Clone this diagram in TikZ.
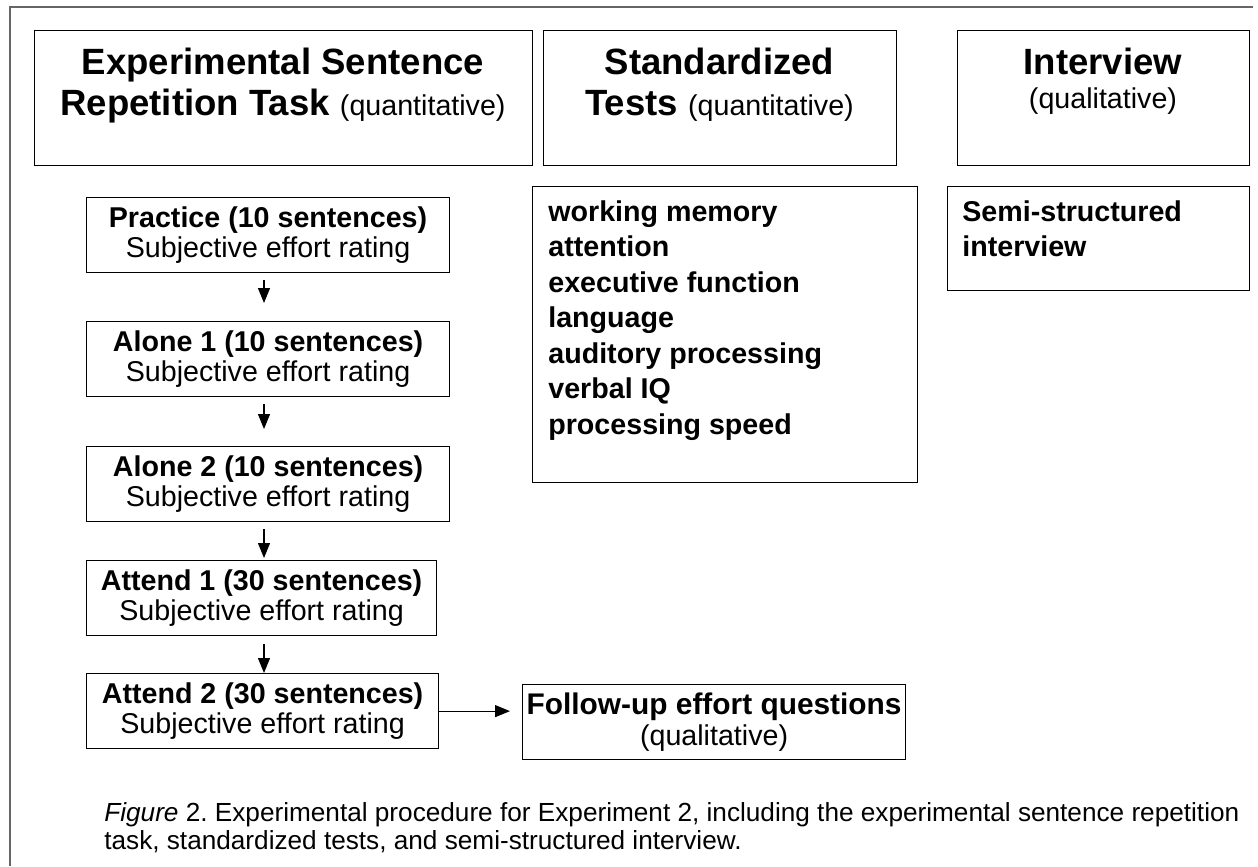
\documentclass[tikz,border=0pt]{standalone}
\usepackage{fontspec}
\setmainfont{Liberation Sans}
\usetikzlibrary{arrows.meta}
\frenchspacing

\newcommand{\hdfont}{\fontsize{20.8}{23.3}\selectfont\bfseries}
\newcommand{\qlfont}{\fontsize{16.3}{23.3}\selectfont\mdseries}

\tikzset{
  frame/.style={draw=black!60, line width=1.3pt},
  box/.style={draw, line width=0.7pt, inner sep=0pt, anchor=north west},
  hdtxt/.style={anchor=north, align=center, inner sep=0pt, font=\hdfont},
  listtxt/.style={anchor=north west, align=left, inner sep=0pt,
    font=\fontsize{16.3}{20.2}\selectfont\bfseries},
  stage/.style={draw, line width=0.7pt, anchor=north west, align=center,
    inner sep=0pt, minimum height=1.5cm, font=\fontsize{16.3}{17}\selectfont},
  flow/.style={line width=0.7pt, -{Triangle[length=0.3cm,width=0.24cm]}}
}

\begin{document}
\begin{tikzpicture}[x=0.02cm, y=-0.02cm]
  \useasboundingbox (0,0) rectangle (1258,866);
  \draw[frame] (10,866) -- (10,7) -- (1253,7);

  % headings
  \node[box, minimum width=9.96cm, minimum height=2.7cm] (hdest) at (34,30) {};
  \node[hdtxt] (hdesttxt) at (283,48) {Experimental Sentence\\Repetition Task {\qlfont(quantitative)}};
  \node[box, minimum width=7.06cm, minimum height=2.7cm] (hdstd) at (543,30) {};
  \node[hdtxt] (hdstdtxt) at (719.5,48) {Standardized\\Tests {\qlfont(quantitative)}};
  \node[box, minimum width=5.84cm, minimum height=2.7cm] (hdint) at (957,30) {};
  \node[hdtxt] (hdinttxt) at (1103,48) {Interview\\[-4pt]{\qlfont(qualitative)}};

  % tests and interview
  \node[box, minimum width=7.7cm, minimum height=5.92cm] (tests) at (532,186) {};
  \node[listtxt] (teststxt) at (548,200) {working memory\\attention\\executive function\\language\\auditory processing\\verbal IQ\\processing speed};
  \node[box, minimum width=6.04cm, minimum height=2.08cm] (semi) at (947,186) {};
  \node[listtxt] (semitxt) at (962,200) {Semi-structured\\interview};

  % sentence repetition stages
  \node[stage, minimum width=7.26cm] (prac) at (86,197) {\textbf{Practice (10 sentences)}\\Subjective effort rating};
  \node[stage, minimum width=7.26cm] (alone1) at (86,321) {\textbf{Alone 1 (10 sentences)}\\Subjective effort rating};
  \node[stage, minimum width=7.26cm] (alone2) at (86,446) {\textbf{Alone 2 (10 sentences)}\\Subjective effort rating};
  \node[stage, minimum width=7.0cm] (att1) at (86,560) {\textbf{Attend 1 (30 sentences)}\\Subjective effort rating};
  \node[stage, minimum width=7.04cm] (att2) at (86,673) {\textbf{Attend 2 (30 sentences)}\\Subjective effort rating};
  \node[stage, minimum width=7.66cm, font=\fontsize{16.3}{18}\selectfont] (follow) at (522,684)
    {{\fontsize{17}{18}\selectfont\bfseries Follow-up effort questions}\\(qualitative)};

  \coordinate (col) at (264,0);
  \draw[flow, shorten <=0.14cm, shorten >=0.36cm] (prac.south -| col) -- (alone1.north -| col);
  \draw[flow, shorten <=0.14cm, shorten >=0.34cm] (alone1.south -| col) -- (alone2.north -| col);
  \draw[flow, shorten <=0.14cm, shorten >=0.04cm] (alone2.south -| col) -- (att1.north -| col);
  \draw[flow, shorten <=0.16cm] (att1.south -| col) -- (att2.north -| col);
  \draw[flow, shorten >=0.24cm] (att2.east) -- (att2.east -| follow.west);

  \node[anchor=north west, align=left, inner sep=0pt, font=\fontsize{14.9}{16.1}\selectfont] (cap) at (104,802)
    {\textit{Figure} 2. Experimental procedure for Experiment 2, including the experimental sentence repetition\\task, standardized tests, and semi-structured interview.};
\end{tikzpicture}
\end{document}
